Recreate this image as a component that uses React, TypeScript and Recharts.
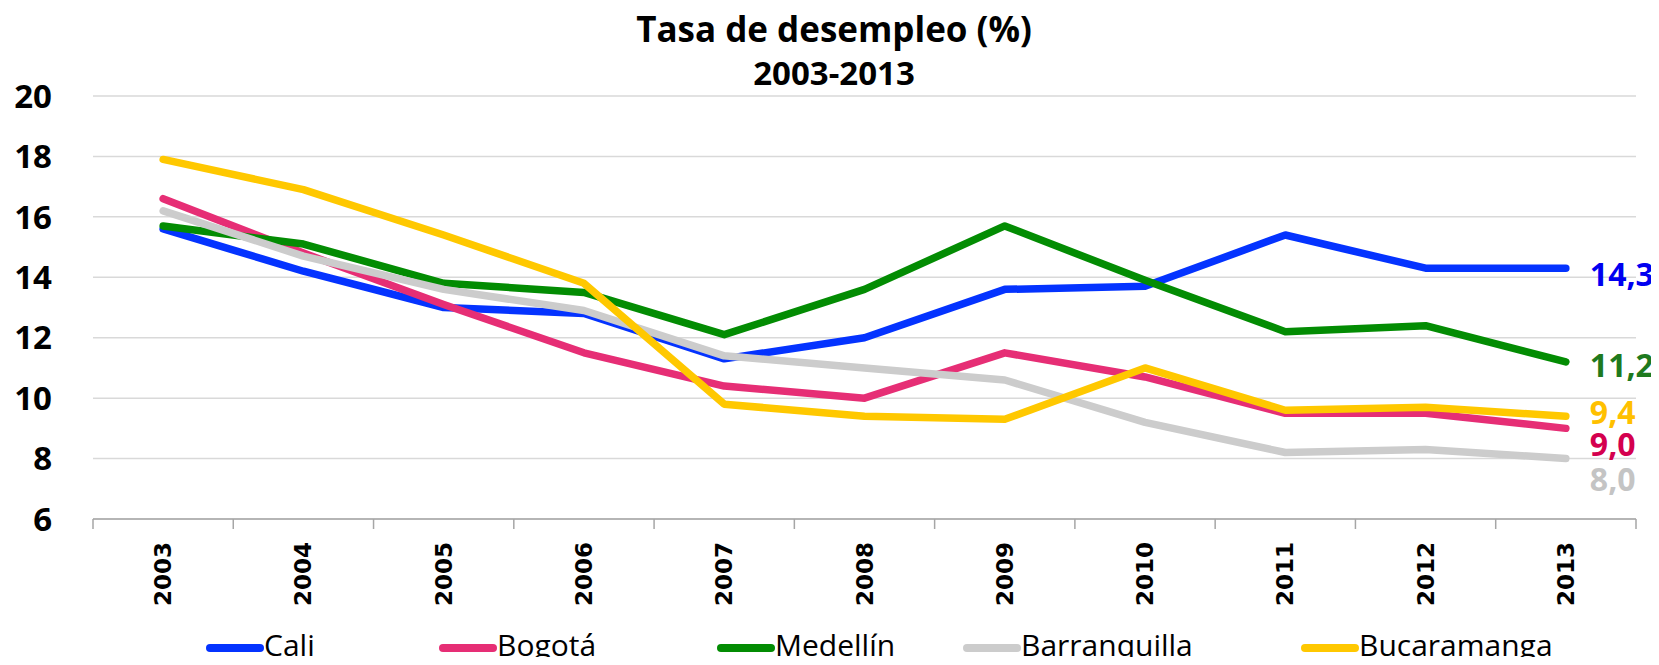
import { CartesianGrid, Line, LineChart, XAxis, YAxis } from "recharts";

const YEARS = ["2003", "2004", "2005", "2006", "2007", "2008", "2009", "2010", "2011", "2012", "2013"];
const CALI = [15.6, 14.2, 13.0, 12.8, 11.3, 12.0, 13.6, 13.7, 15.4, 14.3, 14.3];
const BOGOTA = [16.6, 14.8, 13.1, 11.5, 10.4, 10.0, 11.5, 10.7, 9.5, 9.5, 9.0];
const MEDELLIN = [15.7, 15.1, 13.8, 13.5, 12.1, 13.6, 15.7, 13.9, 12.2, 12.4, 11.2];
const BARRANQUILLA = [16.2, 14.7, 13.6, 12.9, 11.4, 11.0, 10.6, 9.2, 8.2, 8.3, 8.0];
const BUCARAMANGA = [17.9, 16.9, 15.4, 13.8, 9.8, 9.4, 9.3, 11.0, 9.6, 9.7, 9.4];
const Y_TICKS = [6, 8, 10, 12, 14, 16, 18, 20];

const FONT = "'Open Sans', 'Noto Sans', sans-serif";
const W = 1659;
const H = 665;
const HALF_BAND = 70.15;

// estilo por serie (color de línea, color de etiqueta final, ajuste vertical de la etiqueta)
const SERIES = [
  { key: "cali", name: "Cali", values: CALI, color: "#0433FF", labelColor: "#0000F0", dy: 5, legendX: 206 },
  { key: "bogota", name: "Bogotá", values: BOGOTA, color: "#E62E75", labelColor: "#D4004E", dy: 15, legendX: 439 },
  { key: "medellin", name: "Medellín", values: MEDELLIN, color: "#038C03", labelColor: "#1E7A1E", dy: 3, legendX: 717 },
  { key: "barranquilla", name: "Barranquilla", values: BARRANQUILLA, color: "#CCCCCC", labelColor: "#C4C4C4", dy: 20, legendX: 963 },
  { key: "bucaramanga", name: "Bucaramanga", values: BUCARAMANGA, color: "#FFC800", labelColor: "#FFC000", dy: -5, legendX: 1301 },
];

const rows = YEARS.map((year, i) => {
  const row: Record<string, string | number> = { year };
  for (const s of SERIES) row[s.key] = s.values[i];
  return row;
});

function YearTick(props: any) {
  const { x, y, payload, index } = props;
  const last = index === YEARS.length - 1;
  return (
    <g>
      <line x1={x - HALF_BAND} x2={x - HALF_BAND} y1={y} y2={y + 10} stroke="#a6a6a6" strokeWidth={1.5} />
      {last && <line x1={x + HALF_BAND} x2={x + HALF_BAND} y1={y} y2={y + 10} stroke="#a6a6a6" strokeWidth={1.5} />}
      <text
        transform={`translate(${x},${y + 23}) rotate(-90)`}
        textAnchor="end"
        dominantBaseline="central"
        fontFamily="'DejaVu Sans', Verdana, sans-serif"
        fontWeight={700}
        fontSize={23}
        fill="#000"
      >
        {payload.value}
      </text>
    </g>
  );
}

function endLabel(color: string, dy: number) {
  return (props: any) => {
    const { x, y, value, index } = props;
    if (index !== YEARS.length - 1) return null;
    return (
      <text
        x={x + 24}
        y={y + dy}
        dominantBaseline="central"
        fontFamily={FONT}
        fontWeight={700}
        fontSize={32}
        fill={color}
      >
        {Number(value).toFixed(1).replace(".", ",")}
      </text>
    );
  };
}

export default function App() {
  return (
    <div style={{ margin: -8, width: W, height: H, position: "relative", background: "#fff", overflow: "hidden" }}>
      <LineChart width={W} height={H} data={rows} margin={{ top: 96, right: 23, bottom: 0, left: 0 }}>
        <CartesianGrid vertical={false} stroke="#d9d9d9" strokeWidth={1.5} />
        <XAxis
          dataKey="year"
          height={146}
          interval={0}
          padding={{ left: HALF_BAND, right: HALF_BAND }}
          tickLine={false}
          tickSize={0}
          tickMargin={0}
          axisLine={{ stroke: "#a6a6a6", strokeWidth: 1.5 }}
          tick={<YearTick />}
        />
        <YAxis
          domain={[6, 20]}
          ticks={Y_TICKS}
          width={93}
          axisLine={false}
          tickLine={false}
          tickSize={0}
          tickMargin={41}
          tick={{ fontSize: 33, fontWeight: 700, fill: "#000", fontFamily: FONT }}
        />
        {SERIES.map((s) => (
          <Line
            key={s.key}
            dataKey={s.key}
            name={s.name}
            type="linear"
            stroke={s.color}
            strokeWidth={7.5}
            strokeLinecap="round"
            strokeLinejoin="round"
            dot={false}
            activeDot={false}
            isAnimationActive={false}
            label={endLabel(s.labelColor, s.dy)}
          />
        ))}
      </LineChart>
      <svg width={W} height={H} style={{ position: "absolute", left: 0, top: 0, pointerEvents: "none" }}>
        <text x={834} y={42} textAnchor="middle" fontFamily={FONT} fontWeight={700} fontSize={35} fill="#000">
          Tasa de desempleo (%)
        </text>
        <text x={834} y={85} textAnchor="middle" fontFamily={FONT} fontWeight={700} fontSize={33} fill="#000">
          2003-2013
        </text>
        {SERIES.map((s) => (
          <g key={s.key}>
            <line x1={s.legendX + 4} x2={s.legendX + 54} y1={648} y2={648} stroke={s.color} strokeWidth={8} strokeLinecap="round" />
            <text x={s.legendX + 58} y={656} fontFamily={FONT} fontWeight={500} fontSize={30} fill="#000">
              {s.name}
            </text>
          </g>
        ))}
      </svg>
    </div>
  );
}
